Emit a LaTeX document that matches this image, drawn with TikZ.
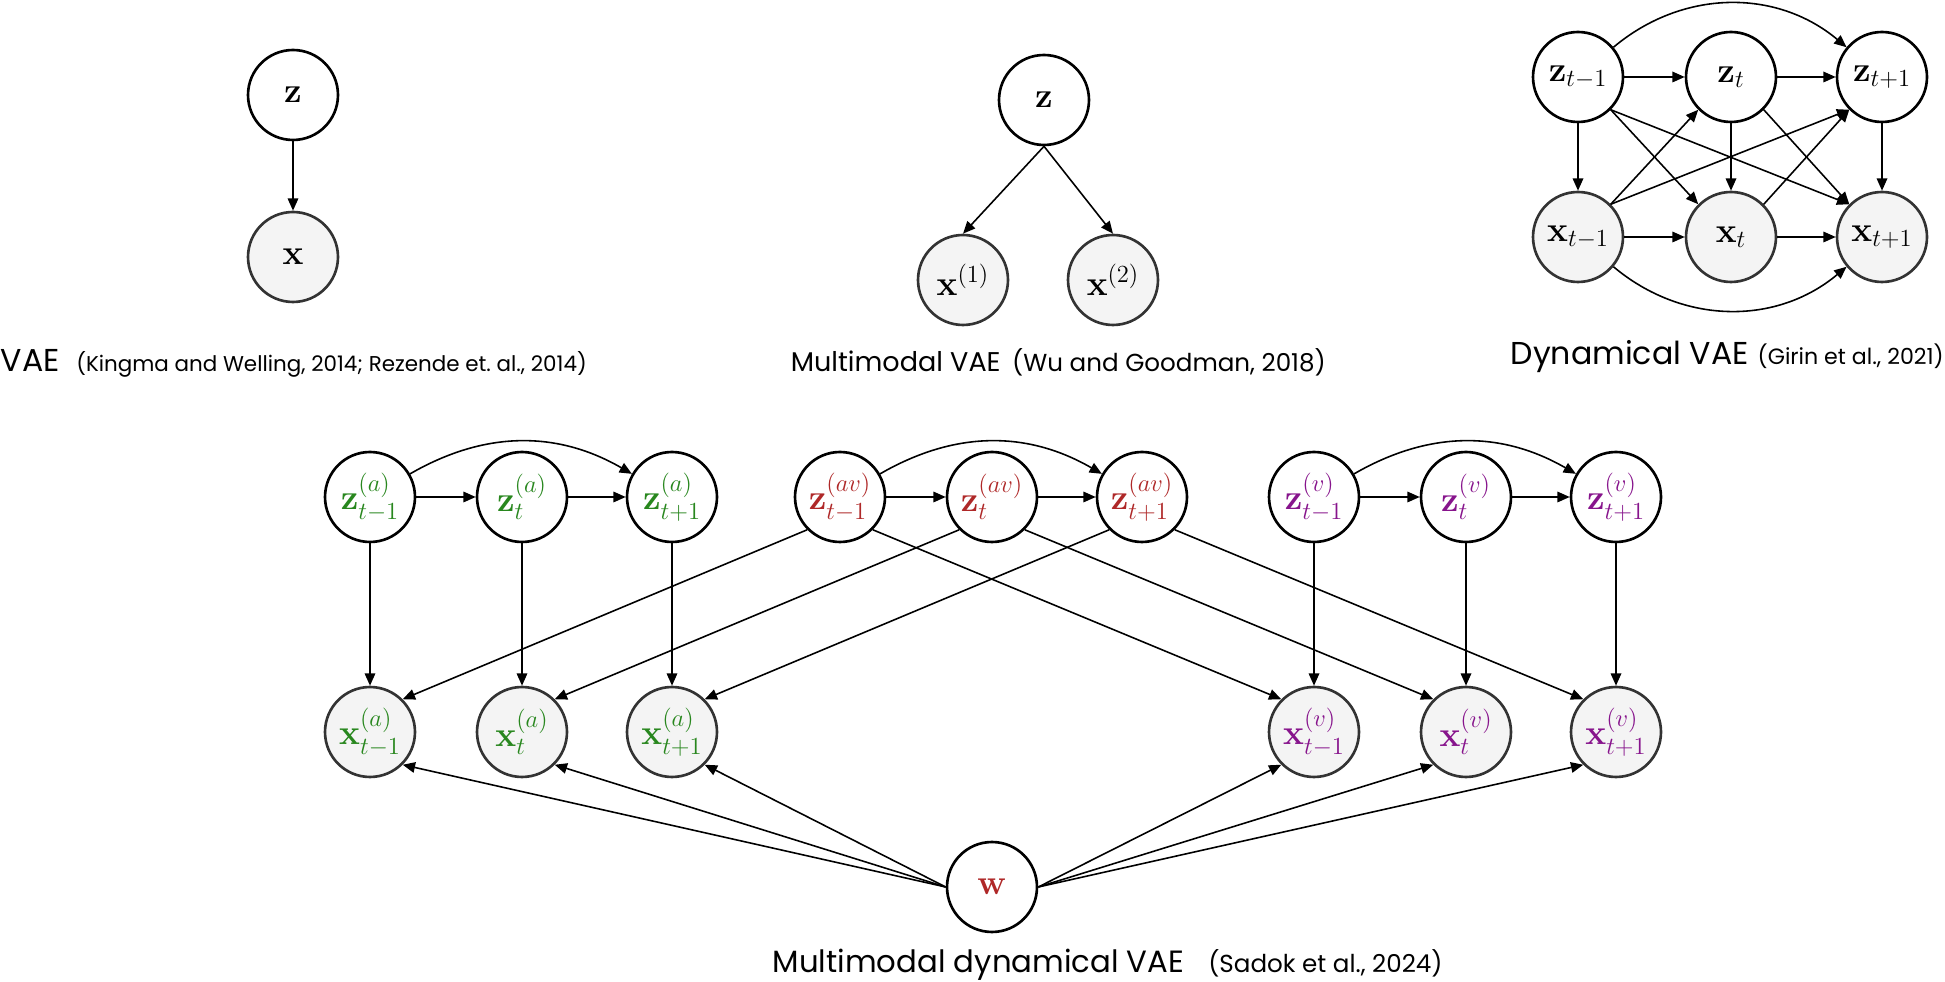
\RequirePackage{fix-cm}
\documentclass[tikz,border=0pt]{standalone}
\usepackage{amsmath}
\usepackage{amsfonts}
\usepackage[no-math]{fontspec}
\setsansfont{Poppins}
\usetikzlibrary{positioning,arrows.meta}
\frenchspacing

\definecolor{agreen}{RGB}{40,135,30}
\definecolor{avred}{RGB}{175,40,40}
\definecolor{vpurple}{RGB}{135,20,140}
\definecolor{obsfill}{RGB}{244,244,244}

\tikzset{
  latent/.style={circle, draw=black, line width=1.5pt, fill=white,
    minimum size=1.8cm, inner sep=0pt, font=\fontsize{20}{22}\selectfont},
  observed/.style={latent, draw=black!80, fill=obsfill},
  title/.style={font=\sffamily\fontsize{#1}{20}\selectfont, inner sep=0pt},
  title/.default=17,
  cite/.style={font=\sffamily\fontsize{#1}{15}\selectfont, inner sep=0pt},
  cite/.default=13
}

\begin{document}
\begin{tikzpicture}[x=0.02cm, y=-0.02cm, line width=0.9pt,
    >={Triangle[length=7pt,width=6pt]}]
  \useasboundingbox (0,0) rectangle (1945,982);

  % VAE
  \node[latent] (z) at (293,95) {$\mathbf{z}$};
  \node[observed] (x) at (293,257) {$\mathbf{x}$};
  \draw[->] (z) -- (x);
  \node[title=18, anchor=west] (vae) at (0,360) {VAE};
  \node[cite=12.2, base right=0.3cm of vae] {(Kingma and Welling, 2014; Rezende et. al., 2014)};

  % multimodal VAE
  \node[latent] (mz) at (1044,100) {$\mathbf{z}$};
  \node[observed] (mx1) at (963,280) {$\mathbf{x}^{(1)}$};
  \node[observed] (mx2) at (1113,280) {$\mathbf{x}^{(2)}$};
  \draw[->] (mz.south) -- (mx1.north);
  \draw[->] (mz.south) -- (mx2.north);
  \node[title=15.4, anchor=west] (mmvae) at (790,361) {Multimodal VAE};
  \node[cite=14, base right=0.2cm of mmvae] {(Wu and Goodman, 2018)};

  % dynamical VAE
  \foreach \n/\x/\s in {0/1578/{t-1}, 1/1731/t, 2/1882/{t+1}} {
    \node[latent] (dz\n) at (\x,77) {$\mathbf{z}_{\s}$};
    \node[observed] (dx\n) at (\x,237) {$\mathbf{x}_{\s}$};
    \draw[->] (dz\n) -- (dx\n);
  }
  \draw[->] (dz0) -- (dz1);
  \draw[->] (dz1) -- (dz2);
  \draw[->] (dx0) -- (dx1);
  \draw[->] (dx1) -- (dx2);
  \draw[->] (dz0) to[bend left=40] (dz2);
  \draw[->] (dx0) to[bend right=40] (dx2);
  \draw[->] (dz0.south east) -- (dx1.north west);
  \draw[->] (dz0.south east) -- (dx2.north west);
  \draw[->] (dz1.south east) -- (dx2.north west);
  \draw[->] (dx0.north east) -- (dz1.south west);
  \draw[->] (dx0.north east) -- (dz2.south west);
  \draw[->] (dx1.north east) -- (dz2.south west);
  \node[title=18, anchor=west] (dvae) at (1510,357) {Dynamical VAE};
  \node[cite=12.6, base right=0.15cm of dvae] {(Girin et al., 2021)};

  % multimodal dynamical VAE
  \foreach \m/\c/\o in {a/agreen/0, av/avred/470, v/vpurple/944} {
    \foreach \n/\x/\s in {0/370/{t-1}, 1/522/t, 2/672/{t+1}}
      \node[latent, text=\c] (z\m\n) at (\x+\o,497) {$\mathbf{z}^{(\m)}_{\s}$};
    \draw[->] (z\m0) -- (z\m1);
    \draw[->] (z\m1) -- (z\m2);
    \draw[->] (z\m0) to[bend left=30] (z\m2);
  }
  \foreach \m/\c/\o in {a/agreen/0, v/vpurple/944}
    \foreach \n/\x/\s in {0/370/{t-1}, 1/522/t, 2/672/{t+1}} {
      \node[observed, text=\c] (x\m\n) at (\x+\o,732) {$\mathbf{x}^{(\m)}_{\s}$};
      \draw[->] (z\m\n) -- (x\m\n);
    }
  \node[latent, text=avred] (w) at (992,887) {$\mathbf{w}$};
  \foreach \n in {0,1,2} {
    \draw[->] (zav\n.south west) -- (xa\n.north east);
    \draw[->] (zav\n.south east) -- (xv\n.north west);
    \draw[->] (w.west) -- (xa\n.south east);
    \draw[->] (w.east) -- (xv\n.south west);
  }
  \node[title=17.5, anchor=west] (mdvae) at (772,965) {Multimodal dynamical VAE};
  \node[cite=14, base right=0.45cm of mdvae] {(Sadok et al., 2024)};
\end{tikzpicture}
\end{document}
